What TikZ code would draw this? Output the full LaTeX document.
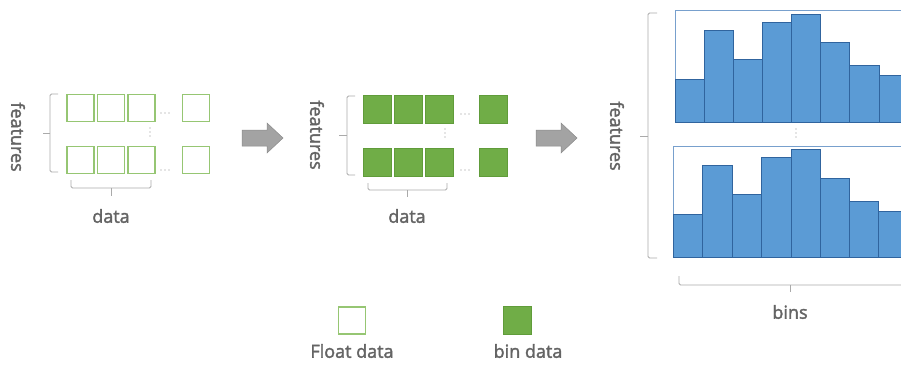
\documentclass[tikz,border=0pt]{standalone}
\usepackage{fontspec}
\setmainfont{Open Sans}
\newfontfamily\lblfont[FakeBold=2]{Open Sans}

\definecolor{txtgray}{RGB}{100,100,100}
\definecolor{brgray}{RGB}{170,170,170}
\definecolor{lightgreen}{RGB}{150,198,115}
\definecolor{fullgreen}{RGB}{112,173,71}
\definecolor{edgegreen}{RGB}{96,156,58}
\definecolor{barblue}{RGB}{91,155,213}
\definecolor{edgeblue}{RGB}{48,100,158}
\definecolor{frameblue}{RGB}{120,160,205}
\definecolor{arrowgray}{RGB}{163,163,163}

\begin{document}
\begin{tikzpicture}[x=1pt,y=-1pt,
  lbl/.style={font=\lblfont\fontsize{18}{21}\selectfont, text=txtgray},
  bracket/.style={draw=brgray, line width=0.8pt, rounded corners=1.5pt},
  bar/.style={fill=barblue, draw=edgeblue, line width=0.6pt},
  fatarrow/.style={fill=arrowgray, draw=arrowgray!85!black, line width=0.5pt},
  dotc/.style={fill=txtgray!70}]
\fill[white] (0,0) rectangle (901,364);
\useasboundingbox (0,0) rectangle (901,364);

% float data grid
 \begin{scope}[every node/.style={draw=lightgreen, line width=1.1pt, fill=white,
                                  minimum size=27pt, inner sep=0pt}]
  \node (f11) at (80.5,108) {};
  \node (f12) at (111,108) {};
  \node (f13) at (141.5,108) {};
  \node (f1n) at (196,108) {};
  \node (f21) at (80.5,160) {};
  \node (f22) at (111,160) {};
  \node (f23) at (141.5,160) {};
  \node (f2n) at (196,160) {};
  \node (legfloat) at (352,320.5) {};
 \end{scope}
 % ellipsis dots
 \fill[dotc] (161,113) circle (0.7) (165,113) circle (0.7) (169,113) circle (0.7);
 \fill[dotc] (161,170) circle (0.7) (165,170) circle (0.7) (169,170) circle (0.7);
 \fill[dotc] (150,128) circle (0.7) (150,132) circle (0.7) (150,136) circle (0.7);

% bin data grid
 \begin{scope}[every node/.style={draw=edgegreen, line width=0.6pt, fill=fullgreen,
                                  minimum size=28pt, inner sep=0pt}]
  \node (b11) at (377.5,109.5) {};
  \node (b12) at (408,109.5) {};
  \node (b13) at (439,109.5) {};
  \node (b1n) at (493,109.5) {};
  \node (b21) at (377.5,162) {};
  \node (b22) at (408,162) {};
  \node (b23) at (439,162) {};
  \node (b2n) at (493,162) {};
  \node (legbin) at (517.5,320.5) {};
 \end{scope}
 \fill[dotc] (461,114) circle (0.7) (465,114) circle (0.7) (469,114) circle (0.7);
 \fill[dotc] (461,170) circle (0.7) (465,170) circle (0.7) (469,170) circle (0.7);
 \fill[dotc] (445,129) circle (0.7) (445,133) circle (0.7) (445,137) circle (0.7);

% arrows between the stages
 \coordinate (arr1) at (242,138);
 \coordinate (arr2) at (536,138);
 \filldraw[fatarrow] (arr1) ++(0,-8) -- ++(25,0) -- ++(0,-7) -- ++(16,15)
                     -- ++(-16,15) -- ++(0,-7) -- ++(-25,0) -- cycle;
 \filldraw[fatarrow] (arr2) ++(0,-8) -- ++(25,0) -- ++(0,-7) -- ++(16,15)
                     -- ++(-16,15) -- ++(0,-7) -- ++(-25,0) -- cycle;

% histograms
 \draw[frameblue, line width=0.6pt] (910,10) -- (675,10) -- (675,122);
 \draw[bar] (675,122) rectangle (704,79);
 \draw[bar] (704,122) rectangle (733,30);
 \draw[bar] (733,122) rectangle (762,59);
 \draw[bar] (762,122) rectangle (791,22);
 \draw[bar] (791,122) rectangle (820,14);
 \draw[bar] (820,122) rectangle (849,42);
 \draw[bar] (849,122) rectangle (879,65);
 \draw[bar] (879,122) rectangle (908,75);
 \draw[frameblue, line width=0.6pt] (910,146) -- (673,146) -- (673,257);
 \draw[bar] (673,257) rectangle (702,214);
 \draw[bar] (702,257) rectangle (732,165);
 \draw[bar] (732,257) rectangle (761,194);
 \draw[bar] (761,257) rectangle (791,157);
 \draw[bar] (791,257) rectangle (820,149);
 \draw[bar] (820,257) rectangle (849,178);
 \draw[bar] (849,257) rectangle (878,201);
 \draw[bar] (878,257) rectangle (907,211);
 \fill[dotc] (796,129) circle (0.7) (796,133) circle (0.7) (796,137) circle (0.7);

% brackets
 \coordinate (fl1) at (58,94);   \coordinate (fl2) at (58,172);  \coordinate (flt) at (43,133);
 \coordinate (fd1) at (71,180);  \coordinate (fd2) at (151,180); \coordinate (fdt) at (111,196);
 \coordinate (bl1) at (355,96);  \coordinate (bl2) at (355,175); \coordinate (blt) at (339,135);
 \coordinate (bd1) at (368,183); \coordinate (bd2) at (447,183); \coordinate (bdt) at (407,197);
 \coordinate (hl1) at (657,13);  \coordinate (hl2) at (657,258); \coordinate (hlt) at (640,136);
 \coordinate (hd1) at (679,276); \coordinate (hd2) at (910,276); \coordinate (hdt) at (790,292);
 \draw[bracket] (fl1) -| (50,133) |- (fl2);  \draw[bracket] (50,133) -- (flt);
 \draw[bracket] (fd1) |- (111,188) -| (fd2); \draw[bracket] (111,188) -- (fdt);
 \draw[bracket] (bl1) -| (347,135) |- (bl2); \draw[bracket] (347,135) -- (blt);
 \draw[bracket] (bd1) |- (407,190) -| (bd2); \draw[bracket] (407,190) -- (bdt);
 \draw[bracket] (hl1) -| (648,136) |- (hl2); \draw[bracket] (648,136) -- (hlt);
 \draw[bracket] (hd1) |- (790,285) -| (hd2); \draw[bracket] (790,285) -- (hdt);

% labels
 \node[lbl, rotate=-90] (feat1) at (18,137) {features};
 \node[lbl, rotate=-90] (feat2) at (317,135) {features};
 \node[lbl, rotate=-90] (feat3) at (617,136) {features};
 \node[lbl] (data1) at (111,216) {data};
 \node[lbl] (data2) at (407,216) {data};
 \node[lbl] (bins) at (790,312) {bins};
 \node[lbl] (floatlbl) at (352,351) {Float data};
 \node[lbl] (binlbl) at (528,351) {bin data};
\end{tikzpicture}
\end{document}
